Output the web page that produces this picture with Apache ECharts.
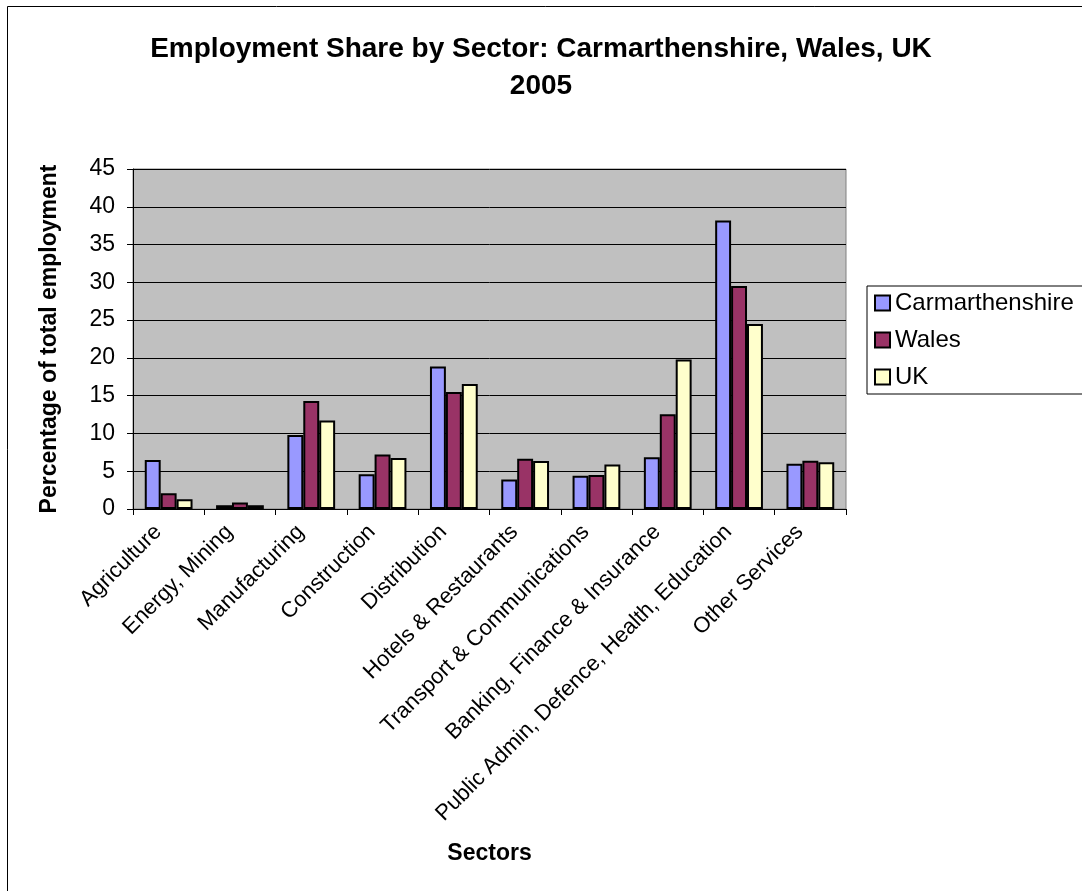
<!DOCTYPE html>
<html>
<head>
<meta charset="utf-8">
<script src="https://cdn.jsdelivr.net/npm/echarts@6/dist/echarts.min.js"></script>
<style>html,body{margin:0;padding:0;background:#fff;}#chart{width:1082px;height:891px;}</style>
</head>
<body>
<div id="chart"></div>
<script>
const categories = ['Agriculture', 'Energy, Mining', 'Manufacturing', 'Construction', 'Distribution',
  'Hotels & Restaurants', 'Transport & Communications', 'Banking, Finance & Insurance',
  'Public Admin, Defence, Health, Education', 'Other Services'];
const carmarthenshire = [6.5, 0.5, 9.8, 4.6, 18.85, 3.9, 4.4, 6.85, 38.2, 6.0];
const wales = [2.1, 0.85, 14.3, 7.2, 15.5, 6.65, 4.5, 12.55, 29.5, 6.4];
const uk = [1.3, 0.5, 11.7, 6.75, 16.55, 6.35, 5.9, 19.8, 24.5, 6.2];
const seriesNames = ['Carmarthenshire', 'Wales', 'UK'];
const colors = ['#9999FF', '#993366', '#FFFFCC'];

const FONT = '"Liberation Sans", Arial, sans-serif';
const chart = echarts.init(document.getElementById('chart'), null, {renderer: 'canvas'});

function bar(name, data, color) {
  return {
    name: name, type: 'bar', data: data,
    barGap: 0, barCategoryGap: '33%',
    itemStyle: {color: color, borderColor: '#000', borderWidth: 2},
    emphasis: {disabled: true}
  };
}

chart.setOption({
  animation: false,
  backgroundColor: '#fff',
  textStyle: {fontFamily: FONT},
  graphic: [{
    type: 'rect', z: -10, silent: true,
    shape: {x: 7.5, y: 6.5, width: 1200, height: 1000},
    style: {fill: 'none', stroke: '#000', lineWidth: 1}
  }],
  title: {
    text: 'Employment Share by Sector: Carmarthenshire, Wales, UK\n2005',
    left: 'center', top: 31, padding: [0, 0, 0, 18],
    textStyle: {fontFamily: FONT, fontSize: 28, fontWeight: 'bold', color: '#000', lineHeight: 37}
  },
  legend: {
    orient: 'vertical', left: 867, top: 286,
    padding: [4, 20, 4, 7], itemGap: 11, itemWidth: 15, itemHeight: 15,
    backgroundColor: '#fff', borderColor: '#000', borderWidth: 1,
    icon: 'rect',
    itemStyle: {borderColor: '#000', borderWidth: 2},
    textStyle: {fontFamily: FONT, fontSize: 24, color: '#000', lineHeight: 26},
    data: seriesNames
  },
  grid: {
    left: 133, right: 236, top: 169, bottom: 382,
    show: true, backgroundColor: '#C0C0C0', borderColor: '#808080', borderWidth: 1,
    containLabel: false
  },
  xAxis: {
    type: 'category', data: categories,
    name: 'Sectors', nameLocation: 'middle', nameGap: 333,
    nameTextStyle: {fontFamily: FONT, fontSize: 23, fontWeight: 'bold', color: '#000'},
    axisLine: {lineStyle: {color: '#000', width: 1}},
    axisTick: {show: true, alignWithLabel: false, length: 6, lineStyle: {color: '#000'}},
    axisLabel: {rotate: 45, interval: 0, margin: 9, fontFamily: FONT, fontSize: 22, color: '#000',
      padding: [0, 15, 0, 0]},
    splitLine: {show: false}
  },
  yAxis: {
    type: 'value', min: 0, max: 45, interval: 5,
    name: 'Percentage of total employment', nameLocation: 'middle', nameGap: 72, nameRotate: 90,
    nameTextStyle: {fontFamily: FONT, fontSize: 23, fontWeight: 'bold', color: '#000'},
    axisLine: {show: true, lineStyle: {color: '#000', width: 1}},
    axisTick: {show: true, length: 6, lineStyle: {color: '#000'}},
    axisLabel: {margin: 18, fontFamily: FONT, fontSize: 23, color: '#000'},
    splitLine: {show: true, lineStyle: {color: '#000', width: 1}}
  },
  series: [
    bar(seriesNames[0], carmarthenshire, colors[0]),
    bar(seriesNames[1], wales, colors[1]),
    bar(seriesNames[2], uk, colors[2])
  ]
});
</script>
</body>
</html>
